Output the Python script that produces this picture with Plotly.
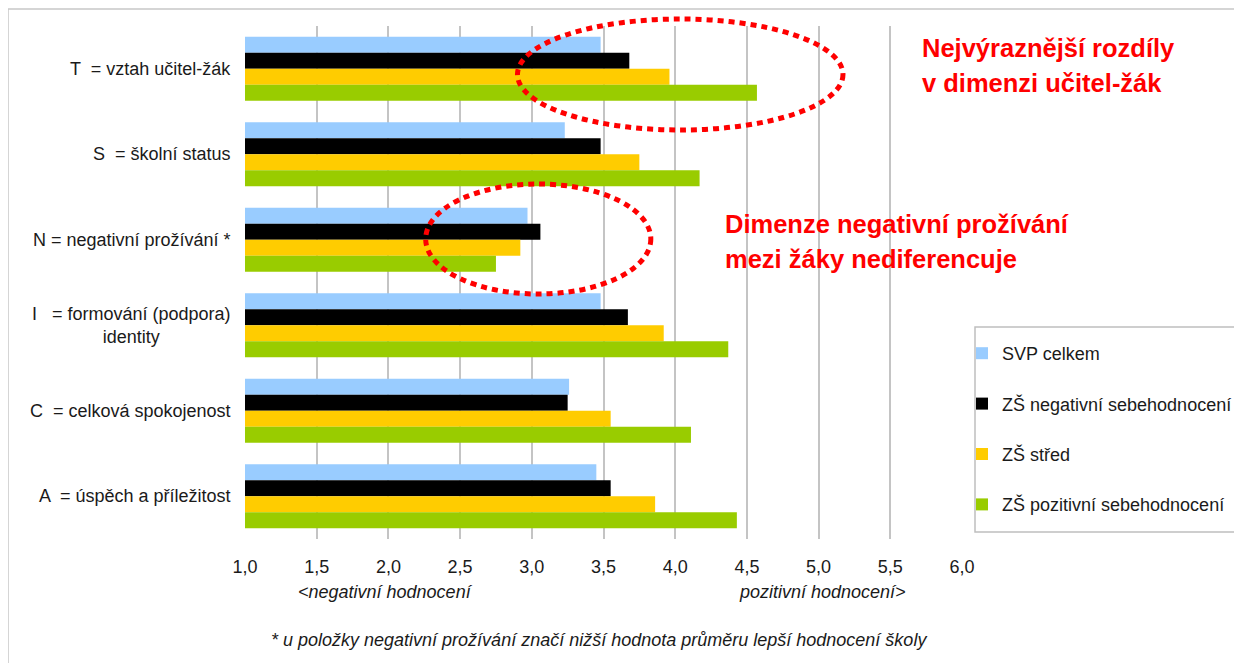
import plotly.graph_objects as go

categories = ["T", "S", "N", "I", "C", "A"]
category_labels = [
    "T  = vztah učitel-žák",
    "S  = školní status",
    "N = negativní prožívání *",
    "I   = formování (podpora)<br>identity",
    "C  = celková spokojenost",
    "A  = úspěch a příležitost",
]

series_names = ["SVP celkem", "ZŠ negativní sebehodnocení", "ZŠ střed", "ZŠ pozitivní sebehodnocení"]
svp_celkem = [3.48, 3.23, 2.97, 3.48, 3.26, 3.45]
zs_negativni = [3.68, 3.48, 3.06, 3.67, 3.25, 3.55]
zs_stred = [3.96, 3.75, 2.92, 3.92, 3.55, 3.86]
zs_pozitivni = [4.57, 4.17, 2.75, 4.37, 4.11, 4.43]
series_values = [svp_celkem, zs_negativni, zs_stred, zs_pozitivni]
series_colors = ["#99ccff", "#000000", "#ffcc00", "#99cc00"]

tick_values = [1.0, 1.5, 2.0, 2.5, 3.0, 3.5, 4.0, 4.5, 5.0, 5.5, 6.0]
tick_labels = ["1,0", "1,5", "2,0", "2,5", "3,0", "3,5", "4,0", "4,5", "5,0", "5,5", "6,0"]

FONT = "Liberation Sans, Arial, sans-serif"
NARROW = "Liberation Sans Narrow, Arial Narrow, Liberation Sans, sans-serif"
TXT = "#1a1a1a"

# plot area in page px is x 245..962, y 26..539 (page has an 8px body margin)
PX0, PW, PY1, PH = 245, 717, 539, 513


def px(x):
    return (x - PX0) / PW


def py(y):
    return (PY1 - y) / PH


fig = go.Figure()
for i, (name, vals, col) in enumerate(zip(series_names, series_values, series_colors)):
    fig.add_trace(go.Bar(
        y=categories, x=[v - 1.0 for v in vals], base=1.0, orientation="h",
        name=name, marker=dict(color=col, line=dict(width=0)),
        legendgroup=f"g{i}",
    ))

# category labels
for cat, lab in zip(categories, category_labels):
    fig.add_annotation(x=px(233), xref="paper", y=cat, yref="y", text=lab,
                       xanchor="right", yanchor="middle", align="center", showarrow=False,
                       font=dict(family=FONT, size=18, color=TXT))

# axis sub-captions
fig.add_annotation(x=px(385), xref="paper", y=py(592), yref="paper",
                   text="<i>&lt;negativní hodnocení</i>", showarrow=False,
                   xanchor="center", yanchor="middle",
                   font=dict(family=NARROW, size=18, color=TXT))
fig.add_annotation(x=px(822), xref="paper", y=py(592), yref="paper",
                   text="<i>pozitivní hodnocení&gt;</i>", showarrow=False,
                   xanchor="center", yanchor="middle",
                   font=dict(family=NARROW, size=18, color=TXT))
fig.add_annotation(x=px(599), xref="paper", y=py(640), yref="paper",
                   text="<i>* u položky negativní prožívání značí nižší hodnota průměru lepší hodnocení školy</i>",
                   showarrow=False, xanchor="center", yanchor="middle",
                   font=dict(family=NARROW, size=18, color=TXT))

# red comments
red_font = dict(family=FONT, size=25.5, color="#ff0000")
for txt, x_, y_ in [("<b>Nejvýraznější rozdíly</b>", 920, 48),
                    ("<b>v dimenzi učitel-žák</b>", 920, 83),
                    ("<b>Dimenze negativní prožívání</b>", 723, 224),
                    ("<b>mezi žáky nediferencuje</b>", 723, 259)]:
    fig.add_annotation(x=px(x_), xref="paper", y=py(y_), yref="paper",
                       text=txt, xanchor="left", yanchor="middle", showarrow=False, font=red_font)

# dotted ellipses
fig.add_shape(type="circle", xref="x", yref="paper", x0=2.90, x1=5.17,
              y0=py(130), y1=py(19),
              line=dict(color="#ff0000", width=5, dash="6px,5px"))
fig.add_shape(type="circle", xref="x", yref="paper", x0=2.26, x1=3.83,
              y0=py(294), y1=py(184),
              line=dict(color="#ff0000", width=5, dash="6px,5px"))

# legend frame
fig.add_shape(type="rect", xref="paper", yref="paper",
              x0=px(975), x1=px(1237), y0=py(532), y1=py(327),
              line=dict(color="#bfbfbf", width=1.5), fillcolor="rgba(0,0,0,0)")
# outer chart border
fig.add_shape(type="rect", xref="paper", yref="paper",
              x0=px(8), x1=px(1300), y0=py(800), y1=py(9),
              line=dict(color="#c8c8c8", width=1.5), fillcolor="rgba(0,0,0,0)")

fig.update_layout(
    width=1242, height=663,
    margin=dict(l=PX0 - 8, r=1242 - (PX0 + PW) + 8, t=(PY1 - PH) - 8, b=663 - PY1 + 8),
    paper_bgcolor="white", plot_bgcolor="white",
    barmode="group", bargap=0.25, bargroupgap=0,
    showlegend=True,
    legend=dict(x=px(962), xanchor="left", y=py(335), yanchor="top",
                traceorder="grouped", tracegroupgap=24, bgcolor="rgba(0,0,0,0)",
                font=dict(family=FONT, size=18, color=TXT), itemwidth=30),
    xaxis=dict(range=[1.0, 6.0], tickvals=tick_values, ticktext=tick_labels,
               showgrid=True, gridcolor="#c4c4c4", gridwidth=2, zeroline=False,
               showline=False, ticks="", ticklabelstandoff=15,
               tickfont=dict(family=NARROW, size=18, color=TXT)),
    yaxis=dict(categoryorder="array", categoryarray=categories, autorange="reversed",
               showticklabels=False, showgrid=False, zeroline=False, showline=False, ticks=""),
)

fig.write_html("out.html")
